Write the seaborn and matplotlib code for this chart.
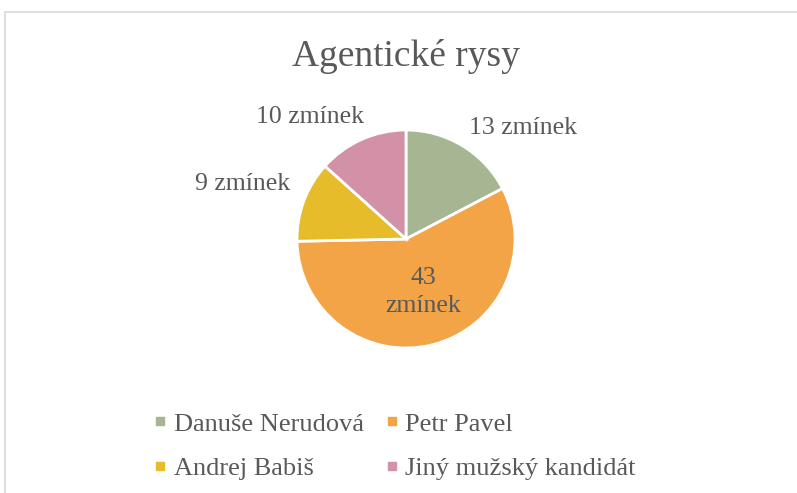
import matplotlib
matplotlib.use("Agg")
from matplotlib import pyplot as plt
from matplotlib.lines import Line2D
from matplotlib.patches import Rectangle
import seaborn as sns

# data
candidates = ["Danuše Nerudová", "Petr Pavel", "Andrej Babiš", "Jiný mužský kandidát"]
mentions = [13, 43, 9, 10]
label_texts = ["13 zmínek", "43\nzmínek", "9 zmínek", "10 zmínek"]
colors = ["#A6B692", "#F2A447", "#E6BC2B", "#D291A6"]

sns.set_theme(style="white")
plt.rcParams['font.family'] = ['Liberation Serif', 'DejaVu Serif']
text_color = "#595959"

W, H = 797, 493
fig = plt.figure(figsize=(W / 100, H / 100), dpi=100)

# outer chart frame
fig.patches.append(Rectangle((5 / W, -0.1), 1.2, (H - 12) / H + 0.1,
                             transform=fig.transFigure, fill=False,
                             edgecolor="#D9D9D9", linewidth=1.2))

# pie axes: centre at (406, 239) px, radius 109 px
cx, cy, r = 406, 239, 109
ax = fig.add_axes([(cx - 2 * r) / W, (H - cy - 2 * r) / H, 4 * r / W, 4 * r / H])
wedges, _ = ax.pie(mentions, colors=sns.color_palette(colors), startangle=90,
                   counterclock=False, radius=1,
                   wedgeprops=dict(edgecolor="white", linewidth=2))
ax.set_xlim(-2, 2)
ax.set_ylim(-2, 2)
ax.set_aspect("equal")
ax.axis("off")

# data labels (positions in pie units)
label_pos = [(1.07, 1.02), (0.16, -0.49), (-1.50, 0.50), (-0.88, 1.12)]
for txt, (lx, ly) in zip(label_texts, label_pos):
    ax.text(lx, ly, txt, ha="center", va="center", fontsize=18.5,
            color=text_color, linespacing=1.35)

fig.text(406 / W, 1 - 57 / H, "Agentické rysy", ha="center", va="center",
         fontsize=27, color=text_color)

# legend (row-major order for 2 columns)
handles = [Line2D([], [], marker="s", linestyle="", color=c, markersize=6)
           for c in colors]
order = [0, 2, 1, 3]
fig.legend([handles[i] for i in order], [candidates[i] for i in order],
           ncol=2, loc="center left", bbox_to_anchor=(142 / W, 1 - 446 / H),
           frameon=False, fontsize=19, labelcolor=text_color, borderpad=0,
           handlelength=0.4, handletextpad=0.3, columnspacing=0.88,
           labelspacing=0.78)

fig.savefig("out.png", dpi=100)
